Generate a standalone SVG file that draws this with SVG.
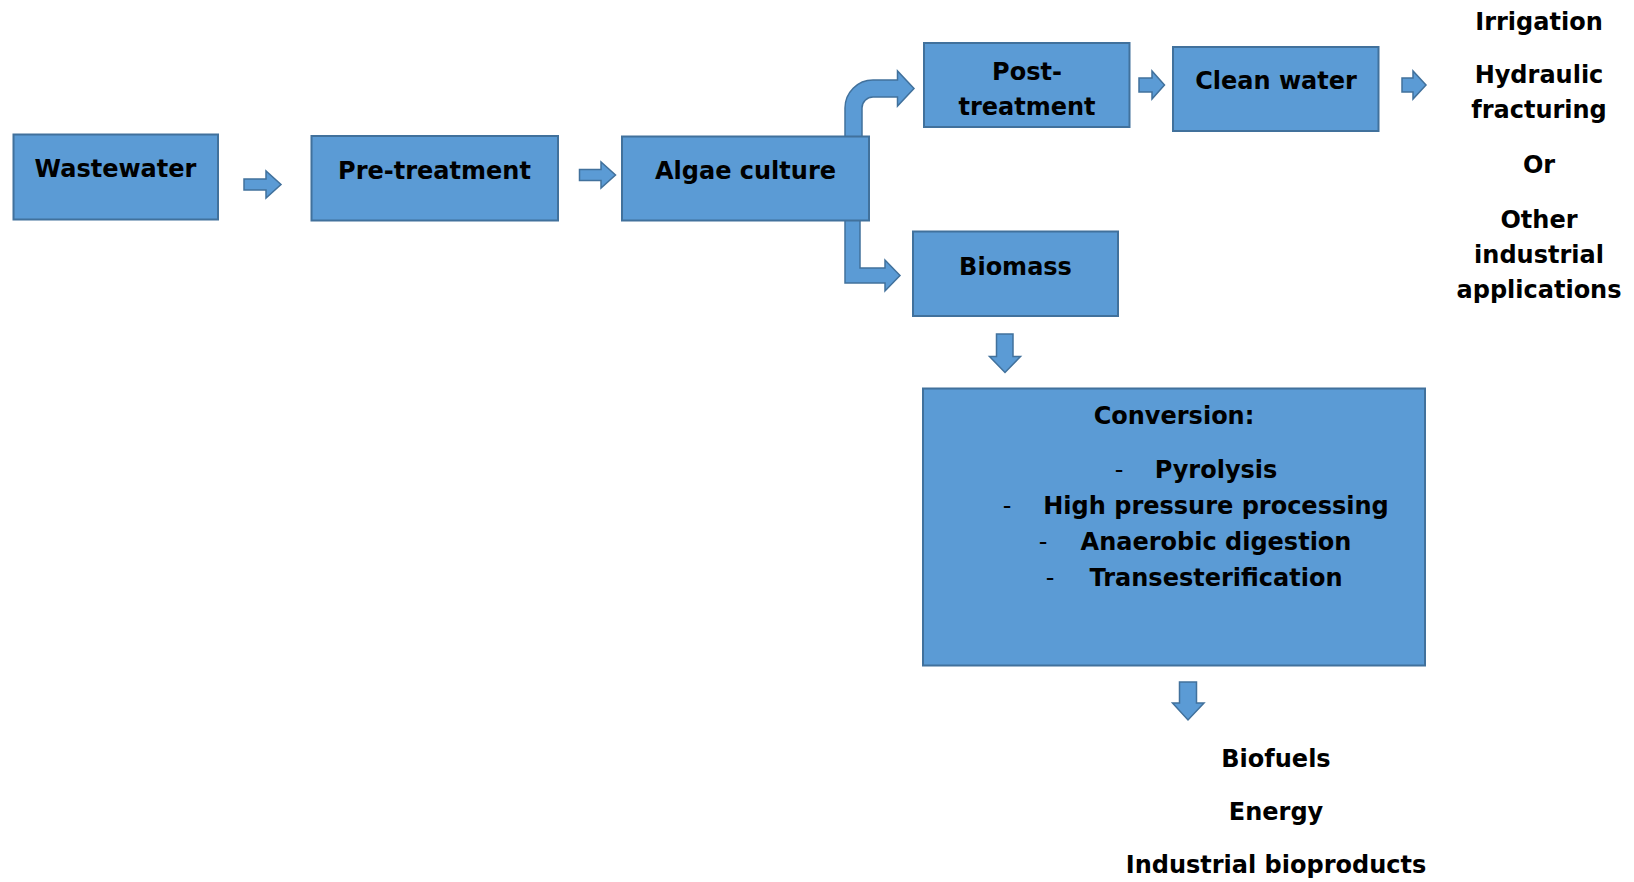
<svg xmlns="http://www.w3.org/2000/svg" width="1634" height="882" viewBox="0 0 1634 882">
<style>
.box{fill:#5B9BD5;stroke:#41719C;stroke-width:2}
.arr{fill:#5B9BD5;stroke:#41719C;stroke-width:1.5;stroke-linejoin:miter}
text{font-family:"DejaVu Sans","Liberation Sans",sans-serif;font-weight:bold;font-size:24px;fill:#000}
.c{text-anchor:middle}
.d{font-weight:normal}
</style>
<rect width="1634" height="882" fill="#fff"/>
<g id="connectors">
<path class="arr" d="M244 179 L266 179 L266 171 L281 184.5 L266 198 L266 190 L244 190 Z"/>
<path class="arr" d="M579.5 169.5 L601 169.5 L601 162 L615.5 175 L601 188 L601 180.5 L579.5 180.5 Z"/>
<path class="arr" d="M845 137 L845 108 A28 28 0 0 1 873 80 L897.5 80 L897.5 71 L914 88.5 L897.5 106 L897.5 97 L873 97 A11 11 0 0 0 862 108 L862 137 Z"/>
<path class="arr" d="M845 220 L845 283 L885 283 L885 291 L900 275.5 L885 260 L885 268 L860 268 L860 220 Z"/>
<path class="arr" d="M1139 78 L1152 78 L1152 71 L1164.5 85 L1152 99 L1152 92 L1139 92 Z"/>
<path class="arr" d="M1402 78 L1413 78 L1413 71 L1426 85 L1413 99 L1413 92 L1402 92 Z"/>
<path class="arr" d="M996.5 334 L1013 334 L1013 356.5 L1020.5 356.5 L1005 372.5 L989.5 356.5 L996.5 356.5 Z"/>
<path class="arr" d="M1179.5 682 L1196.5 682 L1196.5 703 L1204 703 L1188 720 L1172.5 703 L1179.5 703 Z"/>
</g>
<g id="wastewater">
<rect class="box" x="13.5" y="134.5" width="204.5" height="85"/>
<text class="c" x="115.5" y="177">Wastewater</text>
</g>
<g id="pretreatment">
<rect class="box" x="311.5" y="136" width="246.5" height="84.5"/>
<text class="c" x="434.5" y="179">Pre-treatment</text>
</g>
<g id="algae">
<rect class="box" x="622" y="136.5" width="247" height="84"/>
<text class="c" x="745.5" y="179">Algae culture</text>
</g>
<g id="posttreatment">
<rect class="box" x="924" y="43" width="205.5" height="84"/>
<text class="c" x="1027" y="80">Post-</text>
<text class="c" x="1027" y="115">treatment</text>
</g>
<g id="cleanwater">
<rect class="box" x="1173" y="47" width="205.5" height="84"/>
<text class="c" x="1276" y="89">Clean water</text>
</g>
<g id="uses">
<text class="c" x="1539" y="30">Irrigation</text>
<text class="c" x="1539" y="83">Hydraulic</text>
<text class="c" x="1539" y="118">fracturing</text>
<text class="c" x="1539" y="173">Or</text>
<text class="c" x="1539" y="228">Other</text>
<text class="c" x="1539" y="263">industrial</text>
<text class="c" x="1539" y="298">applications</text>
</g>
<g id="biomass">
<rect class="box" x="913" y="231.5" width="205" height="84.5"/>
<text class="c" x="1015.5" y="275">Biomass</text>
</g>
<g id="conversion">
<rect class="box" x="923" y="388.5" width="502" height="277"/>
<text class="c" x="1174" y="424">Conversion:</text>
<text class="c d" x="1119" y="478">-</text>
<text class="c" x="1216" y="478">Pyrolysis</text>
<text class="c d" x="1007" y="514">-</text>
<text class="c" x="1216" y="514">High pressure processing</text>
<text class="c d" x="1043" y="550">-</text>
<text class="c" x="1216" y="550">Anaerobic digestion</text>
<text class="c d" x="1050" y="586">-</text>
<text class="c" x="1216" y="586">Transesterification</text>
</g>
<g id="products">
<text class="c" x="1276" y="767">Biofuels</text>
<text class="c" x="1276" y="820">Energy</text>
<text class="c" x="1276" y="873">Industrial bioproducts</text>
</g>
</svg>
